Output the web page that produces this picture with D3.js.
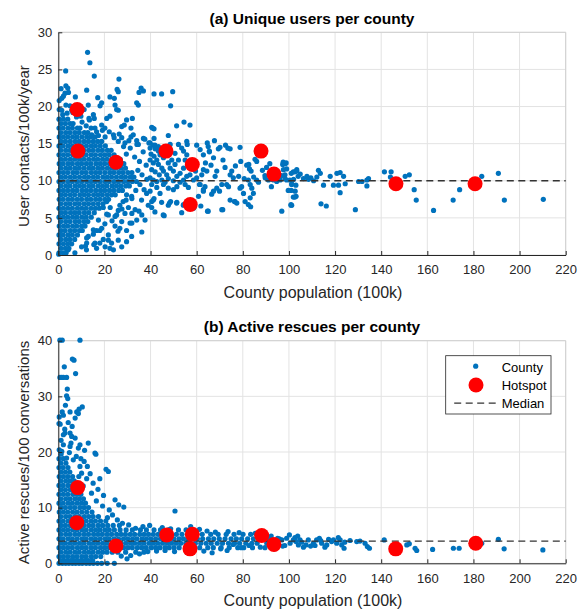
<!DOCTYPE html>
<html>
<head>
<meta charset="utf-8">
<script src="https://cdn.jsdelivr.net/npm/d3@7"></script>
<style>
  body { margin: 0; background: #fff; }
  svg { display: block; }
  text { font-family: "Liberation Sans", Arial, Helvetica, sans-serif; }
</style>
</head>
<body>
<svg id="chart"></svg>
<script>
// ---- data ----
const xTicks = [0, 20, 40, 60, 80, 100, 120, 140, 160, 180, 200, 220];
const yTicksUsers = [0, 5, 10, 15, 20, 25, 30];
const yTicksRescues = [0, 10, 20, 30, 40];

const medianUsers = 10;
const medianRescues = 4;

// hotspot counties: population (100k) and rate
const hotspotPopUsers = [8.2, 8.5, 25.0, 46.7, 58.1, 57.2, 87.9, 93.5, 146.4, 180.7];
const hotspotUsers = [19.6, 14.0, 12.5, 14.0, 12.2, 6.8, 14.0, 10.9, 9.6, 9.6];
const hotspotPopRescues = [8.4, 8.0, 25.0, 47.0, 58.1, 57.1, 88.2, 93.5, 146.3, 181.0];
const hotspotRescues = [13.6, 7.3, 3.1, 5.1, 5.2, 2.6, 5.0, 3.4, 2.6, 3.6];

// dense part of the county cloud, panel (a): "rate: populations..."
const countyCoreUsers = `
0.3: 0.3 2.1 3.4
0.9: 1.2 3.1 4.6
1.5: 0.3 2.2 4.1 5.8
2.1: 1.1 3.2 5.0 7.1
2.7: 0.3 2.1 4.2 6.1 8.3
3.3: 1.2 3.0 5.2 7.1 9.2 10.4
3.9: 0.4 2.3 4.1 6.2 8.0 10.1 11.6
4.5: 1.1 3.2 5.1 7.3 9.1 11.2 12.8
5.1: 0.3 2.2 4.1 6.2 8.1 10.2 12.1 14.3
5.7: 1.2 3.1 5.3 7.2 9.1 11.3 13.2 15.6
6.3: 0.3 2.2 4.1 6.1 8.3 10.2 12.1 14.2 16.1 17.8
6.9: 1.1 3.2 5.1 7.2 9.1 11.2 13.1 15.2 17.3 19.4
7.5: 0.4 2.1 4.2 6.1 8.2 10.1 12.3 14.1 16.2 18.1 20.2 21.8
8.1: 1.2 3.1 5.2 7.1 9.3 11.2 13.1 15.3 17.2 19.1 21.2 23.1 24.7
8.7: 0.3 2.2 4.1 6.2 8.1 10.3 12.2 14.1 16.2 18.3 20.1 22.2 24.1 26.2 27.8
9.3: 1.1 3.2 5.1 7.3 9.2 11.1 13.2 15.1 17.3 19.2 21.1 23.3 25.2 27.1 29.2 30.8
9.9: 0.3 2.1 4.2 6.1 8.2 10.1 12.3 14.2 16.1 18.2 20.3 22.1 24.2 26.1 28.3 30.2 32.1 33.9
10.5: 1.2 3.1 5.2 7.1 9.2 11.3 13.1 15.2 17.1 19.3 21.2 23.1 25.2 27.3 29.1 31.2 32.8
11.1: 0.3 2.2 4.1 6.3 8.1 10.2 12.1 14.3 16.2 18.1 20.2 22.3 24.1 26.2 28.1 30.2 31.9
11.7: 1.1 3.2 5.1 7.2 9.1 11.2 13.3 15.1 17.2 19.1 21.3 23.2 25.1 27.2 29.1
12.3: 0.4 2.1 4.2 6.1 8.3 10.1 12.2 14.1 16.3 18.2 20.1 22.2 24.3 26.1 28.4
12.9: 1.2 3.1 5.2 7.1 9.2 11.1 13.2 15.3 17.1 19.2 21.1 23.2 25.3 26.9
13.5: 0.3 2.2 4.1 6.2 8.1 10.3 12.1 14.2 16.1 18.3 20.2 22.1 24.2
14.1: 1.1 3.2 5.1 7.2 9.3 11.1 13.2 15.1 17.2 19.1 21.3 22.9
14.7: 0.3 2.1 4.2 6.1 8.2 10.1 12.2 14.3 16.1 18.2 20.4
15.3: 1.2 3.1 5.2 7.3 9.1 11.2 13.1 15.2 17.1 18.8
15.9: 0.4 2.2 4.1 6.2 8.1 10.2 12.3 14.1 15.9
16.5: 1.1 3.2 5.1 7.2 9.1 11.3 12.8
17.1: 0.3 2.1 4.2 6.1 8.3 9.4
17.7: 1.2 3.1 5.2 6.4
18.3: 0.3 2.2 4.1
`;

// scattered counties, panel (a): "population,rate"
const countyScatterUsers = `
12.7,27.3 13.7,25.9 15.6,24.1 3.2,24.8 26.3,23.7 12.3,22.2 4.1,22.5 2.9,21.8 1.5,21.1 17.1,21.2
22.4,21.3 24.3,21.1 25.5,22.3 26.0,22.0 35.9,22.5 36.9,22.1 35.0,21.9 41.5,21.7 44.8,21.7 49.6,22.0
48.7,20.1 13.0,20.2 18.1,20.1 18.8,20.5 24.6,20.2 25.3,19.6 26.0,19.5 34.0,20.5 34.7,20.2 5.1,20.1
40.5,17.2 41.5,17.0 29.6,18.2 32.1,18.4 27.5,17.3 28.6,17.5 31.5,17.1 21.0,18.4 22.4,18.7 15.2,18.9
15.6,18.4 13.3,18.4 18.8,17.5 20.2,17.1 23.9,16.2 15.9,17.1 16.6,16.6 14.5,16.2 26.0,15.3 27.5,15.8
28.9,15.1 34.0,15.4 34.7,14.9 36.9,15.7 39.3,15.1 41.9,14.8 43.4,14.6 31.5,15.9 32.5,16.2 51.3,17.4
54.5,17.9 57.1,17.5 47.7,16.1 40.9,17.1 41.5,15.7 55.7,15.3 55.9,14.9 60.0,14.8 64.6,15.1 65.0,14.6
65.5,13.9 67.7,15.4
39.8,15.1 41.0,14.8 42.0,14.3 43.4,14.0 40.2,13.6 41.5,13.3 42.7,12.8 44.1,13.5 45.6,13.1 41.2,12.4
43.4,12.2 44.9,11.7 40.5,11.5 42.0,11.2 43.8,10.8 45.6,11.3 47.0,10.8 48.5,11.7 49.9,11.3 51.4,10.6
52.8,11.0 54.3,11.7 55.7,13.5 54.3,14.0 55.0,12.8 52.1,12.8 50.6,12.2 47.7,12.4 49.2,12.8 39.8,10.4
41.2,10.1 42.7,9.9 44.9,10.1 46.3,9.8 47.7,10.3 49.9,10.0 52.8,9.8 54.3,10.1 55.7,10.6 57.1,10.8
58.6,10.1 60.0,10.4 62.2,10.8 62.9,11.5 64.4,11.3 42.7,9.1 45.6,9.5 47.7,9.0 49.9,8.8 51.4,9.2
55.0,9.5 56.4,9.1 39.8,8.6 44.1,8.3 41.2,7.4 61.5,9.5 62.9,8.6 63.6,9.2 60.8,7.9 39.8,14.4
39.8,12.8 40.5,9.5 47.0,14.4 48.5,14.9 52.1,14.9 53.5,14.4 50.6,13.7 61.5,14.2 62.9,13.5 65.5,14.0
67.3,13.1 58.0,12.6 59.5,11.3 63.8,12.4 66.2,12.1 71.4,12.8 72.3,11.8 76.8,12.0 78.2,10.6 80.6,10.3
84.7,10.5 85.3,12.9 88.5,11.4 91.7,12.3 92.4,9.2 94.8,11.2
29.5,13.6 31.2,14.4 33.1,13.2 35.2,12.6 36.8,13.9 38.1,12.1 34.5,11.4 36.3,10.8 38.4,10.2 35.4,9.5
37.2,8.8 33.6,8.7 31.8,7.9 29.4,7.4 27.6,6.2 25.3,5.4 34.1,14.9 37.5,15.6 30.6,15.4 28.3,14.6
26.4,16.3 24.2,15.8 22.1,16.6 20.3,15.9 19.1,16.8 17.4,16.1 14.2,17.1 12.1,17.4 10.3,17.9 7.9,18.6
5.8,19.5 3.8,19.1 1.9,18.9 0.4,19.6 1.5,19.5 3.3,20.2 0.4,20.8 2.2,21.4 4.4,21.9 1.2,22.4
3.3,22.8 6.3,19.2 9.8,18.7 11.2,19.6 7.4,21.3 13.5,18.2
31.1,4.3 34.0,4.7 37.6,4.7 36.2,3.1 31.8,2.5 29.6,1.8 26.0,2.0 23.1,1.6 21.7,2.7 18.8,3.6
17.4,4.7 15.2,3.4 13.0,2.5 12.3,1.6 10.1,1.1 15.9,1.6 20.3,1.1 23.9,0.7 27.5,1.1 4.3,0.7
0.2,0.1 24.6,5.2 28.9,5.6 33.3,6.1 36.2,5.4 27.5,4.5 21.7,5.4 26.0,6.0 39.0,6.7 41.9,5.8
44.8,7.1 18.0,1.6 19.5,2.1 21.7,2.0 22.4,0.9 15.4,1.4 16.6,0.9 11.8,1.2 12.2,0.7 7.2,0.3
25.9,3.2 26.7,3.6 23.3,4.6 24.6,3.9 18.0,3.3 20.2,4.2 15.2,2.8 16.6,3.3 12.3,2.3 21.0,5.5
22.5,6.4 19.5,6.4 21.0,7.2 26.7,6.7 28.1,7.2 29.6,8.1 31.9,7.6 31.9,4.3 29.6,3.3 31.9,5.6
30.4,6.4 35.0,5.9 36.1,7.4 38.3,8.3 40.5,7.2 41.5,7.6 47.7,6.7 48.7,7.2 45.5,5.4 51.3,7.0
54.2,6.7 53.5,5.7 59.0,6.5 65.0,5.9 71.3,6.1
69.4,14.3 70.1,14.5 73.5,14.4 74.5,14.3 78.8,14.5 79.1,12.6 82.6,12.2 82.9,11.6 83.6,11.3 86.0,10.1
86.8,9.8 97.3,12.2 98.8,12.4 96.9,5.9 100.9,6.8 103.1,7.9 70.9,6.1 74.5,7.4 76.4,7.2 77.4,7.0
81.0,7.2 83.2,7.7 78.8,9.0 79.5,9.2 80.3,8.3 68.7,9.0 69.9,8.6 70.9,9.5 66.5,8.2 67.3,8.6
61.2,9.5 62.9,8.8 64.7,5.9 58.6,6.3 61.8,6.6 51.4,7.1 54.3,6.8 48.2,7.0 45.9,5.3 40.5,6.4
74.5,10.8 75.2,11.3 75.9,10.4 73.0,9.5 73.8,9.2 68.7,11.3 68.0,10.6 82.4,10.1 83.2,9.5 83.9,9.0
84.6,8.3 89.7,10.4 91.1,10.1 93.3,10.1 94.7,9.9 96.2,10.1 99.0,10.1 101.2,9.5 102.7,8.6 103.4,11.3
97.6,11.5 98.3,10.8 72.5,14.8 81.7,12.1 82.4,6.8 83.4,6.5 76.6,7.2 86.0,12.6 89.6,10.7 90.3,11.8
98.3,12.3 97.5,12.5 99.0,11.6 96.8,10.7 98.3,10.3 100.4,10.1 101.9,11.2 101.2,9.6 99.7,8.7 101.9,7.8
101.2,6.7 101.0,11.0 102.0,10.2 102.6,11.2 103.4,11.5 104.0,10.6 104.9,10.9 103.0,9.4 101.0,8.7 102.6,7.8
100.9,6.7 106.3,10.3 107.8,10.6 108.5,10.2 109.5,10.4 110.7,10.0 112.1,10.5 112.8,11.4 113.6,11.0 115.0,9.4
117.9,10.6 113.9,6.9 116.2,6.6 119.3,9.4 120.8,11.0 122.2,11.1 123.7,10.6 121.5,9.4 124.4,9.6 122.2,8.4
128.8,6.1 130.2,9.9 131.7,9.9 133.8,10.1 134.5,10.3 133.8,9.3 141.4,11.2 144.3,11.2 144.0,10.5 150.4,10.6
152.2,10.8 154.3,8.8 155.2,7.4 162.7,6.0 171.2,7.4 174.0,8.8 183.6,10.6 190.8,11.0 193.4,7.4 210.3,7.5
`;

// dense part of the county cloud, panel (b): "rate: populations..."
const countyCoreRescues = `
0: 0.3 1.8 3.2 4.6 6.1 7.5 9.0 10.4 12.1 13.6 15.2 17.0 18.8 21.2 24.3
0.5: 1.1 2.6 4.1 5.4 6.9 8.3 9.8 11.4 13.1 14.9
1.2: 0.3 2.2 4.1 6.2 8.1 10.2 12.1 14.3 16.2 18.4
2.0: 1.1 3.2 5.1 7.2 9.1 11.3 13.2 15.1 17.3 19.2 21.1 23.4 25.8 29.2 33.6 37.1
2.8: 0.3 2.2 4.1 6.1 8.3 10.2 12.1 14.2 16.1 18.3 20.2 22.1 24.2 26.1 28.3 30.2 32.1 34.3 36.2 38.1 40.3 42.2 44.1 46.3 48.1 50.2 52.4 55.2 58.7 61.3 64.8 67.2 70.6 74.1 77.8 80.4 84.2 89.6
3.6: 1.2 3.1 5.2 7.1 9.2 11.1 13.3 15.2 17.1 19.2 21.1 23.3 25.2 27.1 29.2 31.3 33.1 35.2 37.1 39.3 41.2 43.1 45.2 47.3 49.1 51.2 53.1 55.3 57.2 59.4 61.8 64.1 66.3 68.9 71.2 73.8 76.4 78.6 81.3 83.9 86.2 90.4 94.7
4.4: 0.3 2.1 4.2 6.1 8.2 10.3 12.1 14.2 16.1 18.2 20.3 22.1 24.2 26.1 28.3 30.1 32.2 34.1 36.3 38.2 40.1 42.2 44.3 46.1 48.2 50.1 52.3 54.2 56.1 58.2 60.3 62.6 65.1 67.4 69.8 72.3 74.9 77.2 79.5 82.1 84.6 86.9 91.2 95.8
5.2: 1.1 3.2 5.1 7.2 9.1 11.2 13.1 15.3 17.2 19.1 21.2 23.1 25.3 27.2 29.1 31.2 33.1 35.3 37.2 39.1 41.2 43.3 45.1 48.4 51.2 53.6 56.3 59.8 62.4 66.1 69.3 72.8 76.2 80.1 83.4
6.0: 0.3 2.2 4.1 6.2 8.1 10.2 12.1 14.3 16.2 18.1 20.2 22.1 24.3 26.8 29.4 32.1 35.6 38.2 41.5 44.3 47.8 52.1 55.4
6.8: 1.2 3.1 5.2 7.1 9.2 11.1 13.2 15.1 17.3 19.2 21.4 23.8 26.5
7.6: 0.3 2.1 4.2 6.1 8.3 10.2 12.1 14.2 16.1 18.3 20.6
8.4: 1.1 3.2 5.1 7.2 9.1 11.3 13.2 15.1 17.4
9.2: 0.4 2.2 4.1 6.2 8.1 10.2 12.3 14.6
10.0: 1.2 3.1 5.2 7.1 9.3 11.2 13.1
10.8: 0.3 2.1 4.2 6.1 8.2 10.1 11.8
11.6: 1.1 3.2 5.1 7.2 9.1 10.9
12.4: 0.3 2.2 4.1 6.3 8.1 9.8
13.2: 1.2 3.1 5.2 7.1 8.9
14.0: 0.3 2.1 4.2 6.1 7.8
14.8: 1.1 3.2 5.1 6.9
15.6: 0.4 2.2 4.1 6.2
16.4: 1.2 3.1 5.0
17.2: 0.3 2.1 4.2
18.0: 1.1 3.3
18.8: 0.3 2.2
19.6: 1.2
`;

// scattered counties, panel (b): "population,rate"
const countyScatterRescues = `
0.7,40.1 1.7,40.1 9.4,40.1 6.1,36.7 6.8,36.5 2.6,35.3 0.7,33.4 1.5,33.4 2.2,33.4 3.6,33.4
7.5,34.1 3.9,31.3 3.6,30.1 4.1,29.6 10.4,28.1 9.0,27.7 8.0,27.2 8.7,26.9 5.1,27.2 1.7,27.2
2.2,26.6 7.3,26.1 0.3,25.1 0.8,25.0 2.2,23.1 2.9,23.4 5.1,23.4 5.8,22.8 7.3,22.5 5.5,21.6
5.1,21.0 9.4,21.3 8.7,20.7 13.0,21.6 15.9,19.8 2.2,21.3 1.5,20.1
16.3,19.6 20.7,16.9 21.7,16.5 18.0,15.2 24.6,11.4 50.6,9.4 26.2,10.5 12.6,17.4 11.2,18.3 13.8,16.1
15.1,14.4 17.2,13.3 19.6,12.2 14.4,12.6 16.5,11.2 19.2,10.3 22.1,9.6 23.5,8.7 25.6,7.8 21.3,8.2
27.8,7.2 30.5,6.9 28.4,10.1 10.8,13.9 12.3,15.2 11.4,20.3 9.8,18.8 10.1,16.2 8.9,15.6 9.4,17.4
6.5,18.6 7.8,19.2 4.8,19.9 3.6,18.9 0.4,20.4 1.2,22.1 2.8,24.1 4.3,25.3 6.0,24.6 0.4,26.3
3.1,28.4
31.4,1.4 35.2,1.7 38.8,2.1 42.6,2.2 27.3,1.3 29.8,0.8 46.3,2.3 50.4,2.1 55.8,2.0 63.1,2.2
66.7,1.9 70.4,2.6 73.2,2.3 57.4,6.6 61.2,6.1 64.5,5.8 68.1,5.6 73.6,5.7 78.4,5.5 85.4,5.4
88.6,4.7 92.3,4.9 95.1,4.5 93.8,2.6 97.3,3.1 91.4,3.4 87.6,2.9 82.7,3.2 79.3,2.8 75.8,3.4
45.1,6.4 48.7,6.2 36.7,6.6 33.5,6.3 39.6,6.8
96.9,4.2 99.0,4.5 100.5,3.6 101.9,4.2 103.1,3.9 104.1,3.3 104.8,4.2 106.3,2.9 107.4,3.3 108.4,4.2
109.4,3.1 110.6,3.6 112.0,4.2 113.2,4.5 114.2,3.6 115.6,2.9 116.4,3.3 118.5,3.9 119.3,4.2 120.7,3.6
122.2,4.2 122.9,3.3 123.9,2.7 129.4,3.9 130.8,4.0 133.0,3.6 134.0,3.0 134.9,2.7 141.3,4.2 98.2,3.2
102.6,4.6 105.5,3.8 111.3,3.2 113.8,4.1 117.2,4.3 121.4,4.6 124.2,3.8 126.5,4.1 100.2,5.1 103.8,4.9
151.1,3.3 152.2,3.5 154.7,2.7 155.4,2.3 162.3,2.5 171.3,2.7 173.8,2.7 183.6,3.6 190.8,4.3 193.3,2.6
210.1,2.4
`;

// ---- helpers to read the tables above ----
function parseRows(txt) {
  return txt.trim().split('\n').flatMap(line => {
    const [rate, pops] = line.split(':');
    return pops.trim().split(/\s+/).map(p => ({ x: +p, y: +rate }));
  });
}

function parsePairs(txt) {
  return txt.trim().split(/\s+/).map(pair => {
    const [p, r] = pair.split(',');
    return { x: +p, y: +r };
  });
}

// ---- chart ----
const width = 585;
const height = 614;
const blue = '#0072bd';
const red = '#ff0000';
const axisColor = '#262626';
const dotR = 2.6;

const svg = d3.select('#chart')
  .attr('width', width)
  .attr('height', height);

const x = d3.scaleLinear()
  .domain([0, 220])
  .range([58.3, 565.7]);

function drawPanel(cfg) {
  const y = d3.scaleLinear()
    .domain([0, cfg.yMax])
    .range([cfg.bottom, cfg.top]);

  const g = svg.append('g');

  // grid
  g.append('g').selectAll('line')
    .data(xTicks)
    .join('line')
    .attr('x1', d => x(d)).attr('x2', d => x(d))
    .attr('y1', cfg.top).attr('y2', cfg.bottom)
    .attr('stroke', '#e3e3e3');

  g.append('g').selectAll('line')
    .data(cfg.yTicks)
    .join('line')
    .attr('x1', x(0)).attr('x2', x(220))
    .attr('y1', d => y(d)).attr('y2', d => y(d))
    .attr('stroke', '#e3e3e3');

  // top / right box edges
  g.append('path')
    .attr('d', `M${x(0)},${cfg.top}H${x(220)}V${cfg.bottom}`)
    .attr('fill', 'none')
    .attr('stroke', '#cfcfcf');

  // county points
  const counties = parseRows(cfg.core).concat(parsePairs(cfg.scatter));
  g.append('g').selectAll('circle')
    .data(counties)
    .join('circle')
    .attr('cx', d => x(d.x))
    .attr('cy', d => y(d.y))
    .attr('r', dotR)
    .attr('fill', blue);

  // median line
  g.append('line')
    .attr('x1', x(0)).attr('x2', x(220))
    .attr('y1', y(cfg.median)).attr('y2', y(cfg.median))
    .attr('stroke', '#333')
    .attr('stroke-width', 1.3)
    .attr('stroke-dasharray', '7,4.5');

  // hotspots
  g.append('g').selectAll('circle')
    .data(cfg.hotPop.map((p, i) => ({ x: p, y: cfg.hotRate[i] })))
    .join('circle')
    .attr('cx', d => x(d.x))
    .attr('cy', d => y(d.y))
    .attr('r', 7.5)
    .attr('fill', red);

  // axes
  const xAxis = g.append('g')
    .attr('transform', `translate(0,${cfg.bottom})`)
    .call(d3.axisBottom(x).tickValues(xTicks).tickSizeOuter(0).tickSizeInner(-4).tickPadding(10));

  const yAxis = g.append('g')
    .attr('transform', `translate(${x(0)},0)`)
    .call(d3.axisLeft(y).tickValues(cfg.yTicks).tickSizeOuter(0).tickSizeInner(-4).tickPadding(6));

  [xAxis, yAxis].forEach(a => {
    a.select('.domain').attr('stroke', axisColor);
    a.selectAll('.tick line').attr('stroke', axisColor);
    a.selectAll('.tick text')
      .attr('fill', axisColor)
      .style('font-size', '13px');
  });

  // title and labels
  g.append('text')
    .attr('x', 312).attr('y', cfg.top - 8.5)
    .attr('text-anchor', 'middle')
    .style('font-size', '15.5px')
    .style('font-weight', 'bold')
    .attr('fill', '#000')
    .text(cfg.title);

  g.append('text')
    .attr('x', 313).attr('y', cfg.bottom + 42.5)
    .attr('text-anchor', 'middle')
    .style('font-size', '16px')
    .attr('fill', axisColor)
    .text('County population (100k)');

  g.append('text')
    .attr('transform', `translate(29,${cfg.labelY}) rotate(-90)`)
    .attr('text-anchor', 'middle')
    .style('font-size', '15px')
    .attr('fill', axisColor)
    .text(cfg.ylabel);
}

drawPanel({
  top: 32.3, bottom: 255, yMax: 30, yTicks: yTicksUsers,
  title: '(a) Unique users per county',
  ylabel: 'User contacts/100k/year', labelY: 146,
  core: countyCoreUsers, scatter: countyScatterUsers,
  hotPop: hotspotPopUsers, hotRate: hotspotUsers,
  median: medianUsers
});

drawPanel({
  top: 340.7, bottom: 563.3, yMax: 40, yTicks: yTicksRescues,
  title: '(b) Active rescues per county',
  ylabel: 'Active rescues/100 conversations', labelY: 452.5,
  core: countyCoreRescues, scatter: countyScatterRescues,
  hotPop: hotspotPopRescues, hotRate: hotspotRescues,
  median: medianRescues
});

// legend (panel b)
const legend = svg.append('g').attr('transform', 'translate(445.7,355.7)');

legend.append('rect')
  .attr('width', 105.3).attr('height', 58.3)
  .attr('fill', '#fff')
  .attr('stroke', axisColor)
  .attr('stroke-width', 0.8);

legend.append('circle').attr('cx', 30).attr('cy', 10.5).attr('r', dotR).attr('fill', blue);
legend.append('circle').attr('cx', 30.3).attr('cy', 29.3).attr('r', 7.5).attr('fill', red);
legend.append('line')
  .attr('x1', 8.5).attr('x2', 51).attr('y1', 47.5).attr('y2', 47.5)
  .attr('stroke', '#333').attr('stroke-width', 1.3).attr('stroke-dasharray', '7,4.5');

[['County', 16.6], ['Hotspot', 34.3], ['Median', 52.6]].forEach(([label, yy]) => {
  legend.append('text')
    .attr('x', 56).attr('y', yy)
    .style('font-size', '13px')
    .attr('fill', '#000')
    .text(label);
});
</script>
</body>
</html>
